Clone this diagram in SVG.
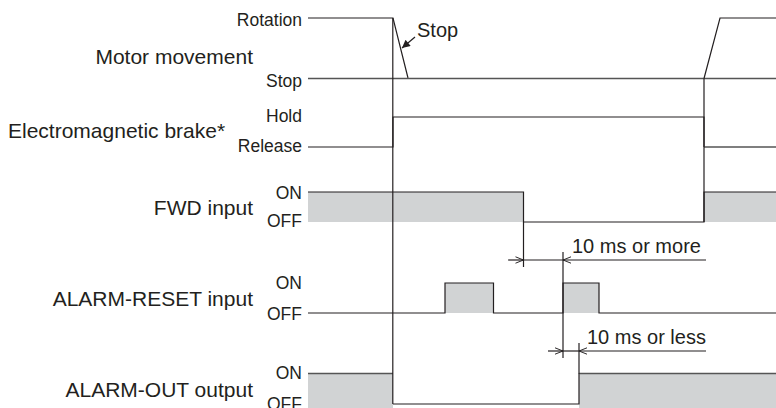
<svg xmlns="http://www.w3.org/2000/svg" width="776" height="408" viewBox="0 0 776 408">
<style>
text{font-family:"Liberation Sans",Arial,sans-serif;fill:#231f20}
.big{font-size:21px;text-anchor:end}
.sm{font-size:17.5px;text-anchor:end}
.ann{font-size:20px}
.ln{fill:none;stroke:#231f20;stroke-width:1.2}
.gl{fill:none;stroke:#555;stroke-width:1.6}
.fill{fill:#d1d3d4;stroke:none}
</style>
<defs>
<marker id="tri" viewBox="0 0 10 10" refX="10" refY="5" markerWidth="10" markerHeight="8" markerUnits="userSpaceOnUse" orient="auto">
<path d="M0,0 L10,5 L0,10 z" fill="#231f20"/>
</marker>
<marker id="chev" viewBox="0 0 10 10" refX="10" refY="5" markerWidth="9" markerHeight="8" markerUnits="userSpaceOnUse" orient="auto">
<path d="M0,1 L10,5 L0,9" fill="none" stroke="#231f20" stroke-width="1.2"/>
</marker>
</defs>

<g id="motor">
<text class="sm" x="302" y="26">Rotation</text>
<text class="big" x="253" y="64">Motor movement</text>
<text class="sm" x="302" y="86.5">Stop</text>
<polyline class="ln" points="308,18 393,18 408,78"/>
<line class="gl" x1="308" y1="78.5" x2="776" y2="78.5"/>
<polyline class="ln" points="704,78.5 720,18 776,18"/>
<text class="ann" x="417" y="36.5">Stop</text>
</g>

<g id="brake">
<text class="sm" x="302" y="122">Hold</text>
<text x="8" y="138" style="font-size:21px">Electromagnetic brake*</text>
<text class="sm" x="302" y="152">Release</text>
<polyline class="ln" points="308,147 393,147 393,117 704,117 704,147"/>
<line class="gl" x1="704" y1="147" x2="776" y2="147"/>
</g>

<g id="fwd">
<text class="sm" x="302" y="198.5">ON</text>
<text class="big" x="253" y="215">FWD input</text>
<text class="sm" x="302" y="227">OFF</text>
<rect class="fill" x="308" y="192" width="215.5" height="30"/>
<rect class="fill" x="704" y="192" width="72" height="30"/>
<polyline class="ln" points="308,192 523.5,192 523.5,222 704,222 704,192 776,192"/>
</g>

<g id="alarm-reset">
<text class="sm" x="302" y="289">ON</text>
<text class="big" x="253" y="305.5">ALARM-RESET input</text>
<text class="sm" x="302" y="319.5">OFF</text>
<rect class="fill" x="445" y="283" width="48.5" height="30"/>
<rect class="fill" x="563" y="283" width="36" height="30"/>
<polyline class="ln" points="308,313 445,313 445,283 493.5,283 493.5,313 563,313 563,283 599,283 599,313 776,313"/>
</g>

<g id="alarm-out">
<text class="sm" x="302" y="379">ON</text>
<text class="big" x="253" y="396.5">ALARM-OUT output</text>
<text class="sm" x="302" y="409.5">OFF</text>
<rect class="fill" x="308" y="373.5" width="85" height="34.5"/>
<rect class="fill" x="579" y="373.5" width="197" height="34.5"/>
<polyline class="gl" points="308,373.5 393,373.5"/>
<polyline class="ln" points="393,404 579,404 579,373.5"/>
<line class="gl" x1="579" y1="373.5" x2="776" y2="373.5"/>
</g>

<g id="connectors">
<line class="ln" x1="392.8" y1="18" x2="392.8" y2="404"/>
<line class="ln" x1="704" y1="78.5" x2="704" y2="222"/>
<line class="ln" x1="415" y1="37" x2="402" y2="48" marker-end="url(#tri)"/>
<line class="ln" x1="523.5" y1="222" x2="523.5" y2="267"/>
<line class="ln" x1="563" y1="252" x2="563" y2="358"/>
<line class="ln" x1="508" y1="260" x2="523.5" y2="260" marker-end="url(#chev)"/>
<line class="ln" x1="523.5" y1="260" x2="563" y2="260"/>
<line class="ln" x1="706" y1="260" x2="563" y2="260" marker-end="url(#chev)"/>
<text class="ann" x="572" y="252.5">10 ms or more</text>
<line class="ln" x1="548" y1="351" x2="563" y2="351" marker-end="url(#chev)"/>
<line class="ln" x1="563" y1="351" x2="579" y2="351"/>
<line class="ln" x1="706" y1="351" x2="579" y2="351" marker-end="url(#chev)"/>
<line class="ln" x1="579" y1="343" x2="579" y2="374"/>
<text class="ann" x="587" y="344">10 ms or less</text>
</g>
</svg>
